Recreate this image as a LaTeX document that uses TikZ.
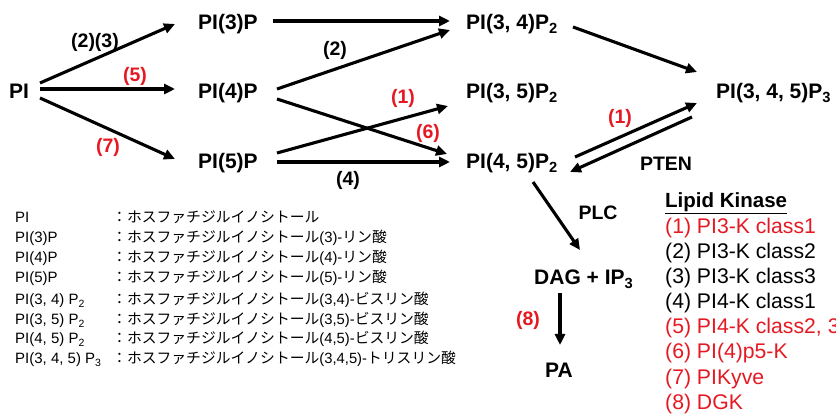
\documentclass[tikz,border=0pt]{standalone}
\usepackage{fontspec}
\setmainfont{Liberation Sans}
\newfontfamily\jp{Noto Sans CJK JP}
\usetikzlibrary{arrows.meta}
\definecolor{kred}{RGB}{230,25,35}
\begin{document}
\begin{tikzpicture}[x=1pt,y=-1pt,
  mol/.style={anchor=base west, inner sep=0pt, font=\fontsize{21}{24}\selectfont\bfseries},
  lab/.style={inner sep=0pt, font=\fontsize{19.5}{22}\selectfont\bfseries},
  rlab/.style={lab, text=kred},
  conn/.style={line width=3.1pt, -{Triangle[length=11pt,width=10pt]}},
  leg/.style={anchor=base west, inner sep=0pt, font=\fontsize{15}{17}\selectfont},
  jleg/.style={anchor=base west, inner sep=0pt, font=\fontsize{14.8}{17}\selectfont\jp},
  kin/.style={anchor=base west, inner sep=0pt, font=\fontsize{21.2}{23}\selectfont},
  rkin/.style={kin, text=kred},
]
\useasboundingbox (0,0) rectangle (836,419);
\fill[white] (0,0) rectangle (836,419);

% molecules
\node[mol] (pi)   at (9,99)  {PI};
\node[mol] (p3)   at (198,30) {PI(3)P};
\node[mol] (p4)   at (198,99) {PI(4)P};
\node[mol] (p5)   at (198,169) {PI(5)P};
\node[mol] (p34)  at (466,30) {PI(3, 4)P\textsubscript{2}};
\node[mol] (p35)  at (466,99) {PI(3, 5)P\textsubscript{2}};
\node[mol] (p45)  at (466,169) {PI(4, 5)P\textsubscript{2}};
\node[mol] (p345) at (716,99) {PI(3, 4, 5)P\textsubscript{3}};
\node[mol] (dag)  at (534,285) {DAG + IP\textsubscript{3}};
\node[mol] (pa)   at (545,378) {PA};

% connectors
\draw[conn] ([shift={(31,-16)}]pi.base west) -- ([shift={(-23,-6)}]p3.base west);
\draw[conn] ([shift={(31,-10)}]pi.base west) -- ([shift={(-23,-10)}]p4.base west);
\draw[conn] ([shift={(31,-1)}]pi.base west) -- ([shift={(-23,-10)}]p5.base west);
\draw[conn] ([shift={(75,-9)}]p3.base west) -- ([shift={(-16,-9)}]p34.base west);
\draw[conn] ([shift={(79,-10)}]p4.base west) -- ([shift={(-16,0)}]p34.base west);
\draw[conn] ([shift={(79,0)}]p4.base west) -- ([shift={(-19,-15)}]p45.base west);
\draw[conn] ([shift={(79,-16)}]p5.base west) -- ([shift={(-18,7)}]p35.base west);
\draw[conn] ([shift={(79,-7)}]p5.base west) -- ([shift={(-16,-7)}]p45.base west);
\draw[conn] ([shift={(107,-3)}]p34.base west) -- ([shift={(-19,-27)}]p345.base west);
\draw[conn] ([shift={(109,-12)}]p45.base west) -- ([shift={(-19,4)}]p345.base west);
\draw[conn] ([shift={(-24,18)}]p345.base west) -- ([shift={(104,3)}]p45.base west);
\draw[conn] ([shift={(67,13)}]p45.base west) -- ([shift={(46,-35)}]dag.base west);
\draw[conn] ([shift={(26,8)}]dag.base west) -- ([shift={(15,-33)}]pa.base west);

% labels
\node[lab]  (l23) at (95,42)  {(2)(3)};
\node[rlab] (l5)  at (135,76) {(5)};
\node[rlab] (l7)  at (108,147) {(7)};
\node[lab]  (l2)  at (335,50) {(2)};
\node[rlab] (l1a) at (403,98) {(1)};
\node[rlab] (l6)  at (428,133) {(6)};
\node[lab]  (l4)  at (348,180) {(4)};
\node[rlab] (l1b) at (620,118) {(1)};
\node[lab]  (pten) at (666,164) {PTEN};
\node[lab]  (plc) at (598,213) {PLC};
\node[rlab] (l8)  at (528,320) {(8)};

% kinase list
\node[kin, font=\fontsize{20.5}{23}\selectfont\bfseries] (lk) at (665,208) {\underline{Lipid Kinase}};
\node[rkin] (k1) at (665,234) {(1) PI3-K class1};
\node[kin]  (k2) at (665,259) {(2) PI3-K class2};
\node[kin]  (k3) at (665,284) {(3) PI3-K class3};
\node[kin]  (k4) at (665,309) {(4) PI4-K class1};
\node[rkin] (k5) at (665,334) {(5) PI4-K class2, 3};
\node[rkin] (k6) at (665,359) {(6) PI(4)p5-K};
\node[rkin] (k7) at (665,385) {(7) PIKyve};
\node[rkin] (k8) at (665,410) {(8) DGK};

% legend
\node[leg] (a1) at (15,223) {PI};
\node[leg] (a2) at (15,243) {PI(3)P};
\node[leg] (a3) at (15,263) {PI(4)P};
\node[leg] (a4) at (15,283) {PI(5)P};
\node[leg] (a5) at (15,305) {PI(3, 4) P\textsubscript{2}};
\node[leg] (a6) at (15,325) {PI(3, 5) P\textsubscript{2}};
\node[leg] (a7) at (15,344) {PI(4, 5) P\textsubscript{2}};
\node[leg] (a8) at (15,364) {PI(3, 4, 5) P\textsubscript{3}};
\node[jleg] (b1) at (112,223) {：ホスファチジルイノシトール};
\node[jleg] (b2) at (112,243) {：ホスファチジルイノシトール{\rmfamily(3)-}リン酸};
\node[jleg] (b3) at (112,263) {：ホスファチジルイノシトール{\rmfamily(4)-}リン酸};
\node[jleg] (b4) at (112,283) {：ホスファチジルイノシトール{\rmfamily(5)-}リン酸};
\node[jleg] (b5) at (112,305) {：ホスファチジルイノシトール{\rmfamily(3,4)-}ビスリン酸};
\node[jleg] (b6) at (112,325) {：ホスファチジルイノシトール{\rmfamily(3,5)-}ビスリン酸};
\node[jleg] (b7) at (112,344) {：ホスファチジルイノシトール{\rmfamily(4,5)-}ビスリン酸};
\node[jleg] (b8) at (112,364) {：ホスファチジルイノシトール{\rmfamily(3,4,5)-}トリスリン酸};
\end{tikzpicture}
\end{document}
